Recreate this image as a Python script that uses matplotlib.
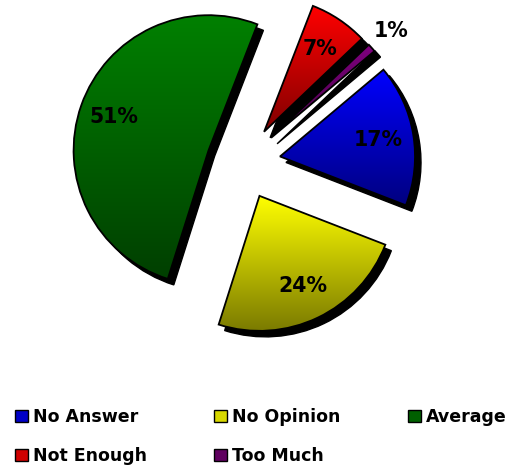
import matplotlib

matplotlib.use("Agg")
import matplotlib.pyplot as plt
import numpy as np
from matplotlib import patches as mpatches
from matplotlib.colors import LinearSegmentedColormap

# Survey answers, clockwise from the upper right
LABELS = ["No Answer", "No Opinion", "Average", "Not Enough", "Too Much"]
SHARES = [17, 24, 51, 7, 1]

# Each slice fades from its top colour down to a darker shade
TOP_COLORS = ["#0000ff", "#ffff00", "#008000", "#ff0000", "#800080"]
BOTTOM_COLORS = ["#000080", "#7a7a00", "#003f00", "#800000", "#400040"]
LEGEND_COLORS = ["#0000c8", "#d8d800", "#006000", "#d00000", "#600060"]

WIDTH, HEIGHT = 511, 468
RADIUS = 135
CENTER = (243.5, HEIGHT - 162.5)
EXPLODE = [37] * len(SHARES)
SHADOW_OFFSET = (6, -6)


def paint_gradient(ax, wedge, top, bottom):
    """Fill a wedge with a vertical gradient clipped to its outline."""
    bbox = wedge.get_path().get_extents()
    cmap = LinearSegmentedColormap.from_list("fade", [bottom, top])
    ramp = np.linspace(0, 1, 256).reshape(-1, 1)
    img = ax.imshow(ramp, cmap=cmap, origin="lower", aspect="auto", interpolation="bilinear",
                    extent=(bbox.x0, bbox.x1, bbox.y0, bbox.y1), zorder=2)
    img.set_clip_path(wedge)


fig = plt.figure(figsize=(WIDTH / 100, HEIGHT / 100), dpi=100)
ax = fig.add_axes([0, 0, 1, 1])

wedges, _, autotexts = ax.pie(
    SHARES,
    explode=EXPLODE,
    center=CENTER,
    radius=RADIUS,
    startangle=40,
    counterclock=False,
    autopct=lambda p: f"{p:.0f}%",
    pctdistance=0.74,
    wedgeprops=dict(edgecolor="black", linewidth=1.3, facecolor="none", zorder=3),
    textprops=dict(fontsize=14.8, fontweight="bold", color="black", zorder=5),
)

for wedge, top, bottom in zip(wedges, TOP_COLORS, BOTTOM_COLORS):
    shadow = mpatches.Wedge((wedge.center[0] + SHADOW_OFFSET[0], wedge.center[1] + SHADOW_OFFSET[1]),
                            wedge.r, wedge.theta1, wedge.theta2, facecolor="black", edgecolor="black",
                            linewidth=1.0, zorder=1)
    ax.add_patch(shadow)
    paint_gradient(ax, wedge, top, bottom)

# The thin slice gets its label outside the pie
small = wedges[4]
mid = np.deg2rad(0.5 * (small.theta1 + small.theta2))
autotexts[4].set_position((small.center[0] + 1.19 * RADIUS * np.cos(mid),
                           small.center[1] + 1.19 * RADIUS * np.sin(mid)))

ax.set_xlim(0, WIDTH)
ax.set_ylim(0, HEIGHT)
ax.set_aspect("equal")
ax.axis("off")

# Legend filled row by row: reorder because matplotlib fills columns first
handles = [mpatches.Rectangle((0, 0), 1, 1, facecolor=c, edgecolor="black", linewidth=1.0)
           for c in LEGEND_COLORS]
order = [0, 3, 1, 4, 2]
fig.legend(
    [handles[i] for i in order],
    [LABELS[i] for i in order],
    ncol=3,
    loc="lower left",
    bbox_to_anchor=(15 / WIDTH, 3 / HEIGHT),
    frameon=False,
    prop=dict(weight="bold", size=12.5),
    handlelength=0.72,
    handleheight=0.72,
    handletextpad=0.3,
    columnspacing=3.9,
    labelspacing=1.2,
    borderpad=0,
    borderaxespad=0,
)

fig.savefig("out.png", dpi=100)
